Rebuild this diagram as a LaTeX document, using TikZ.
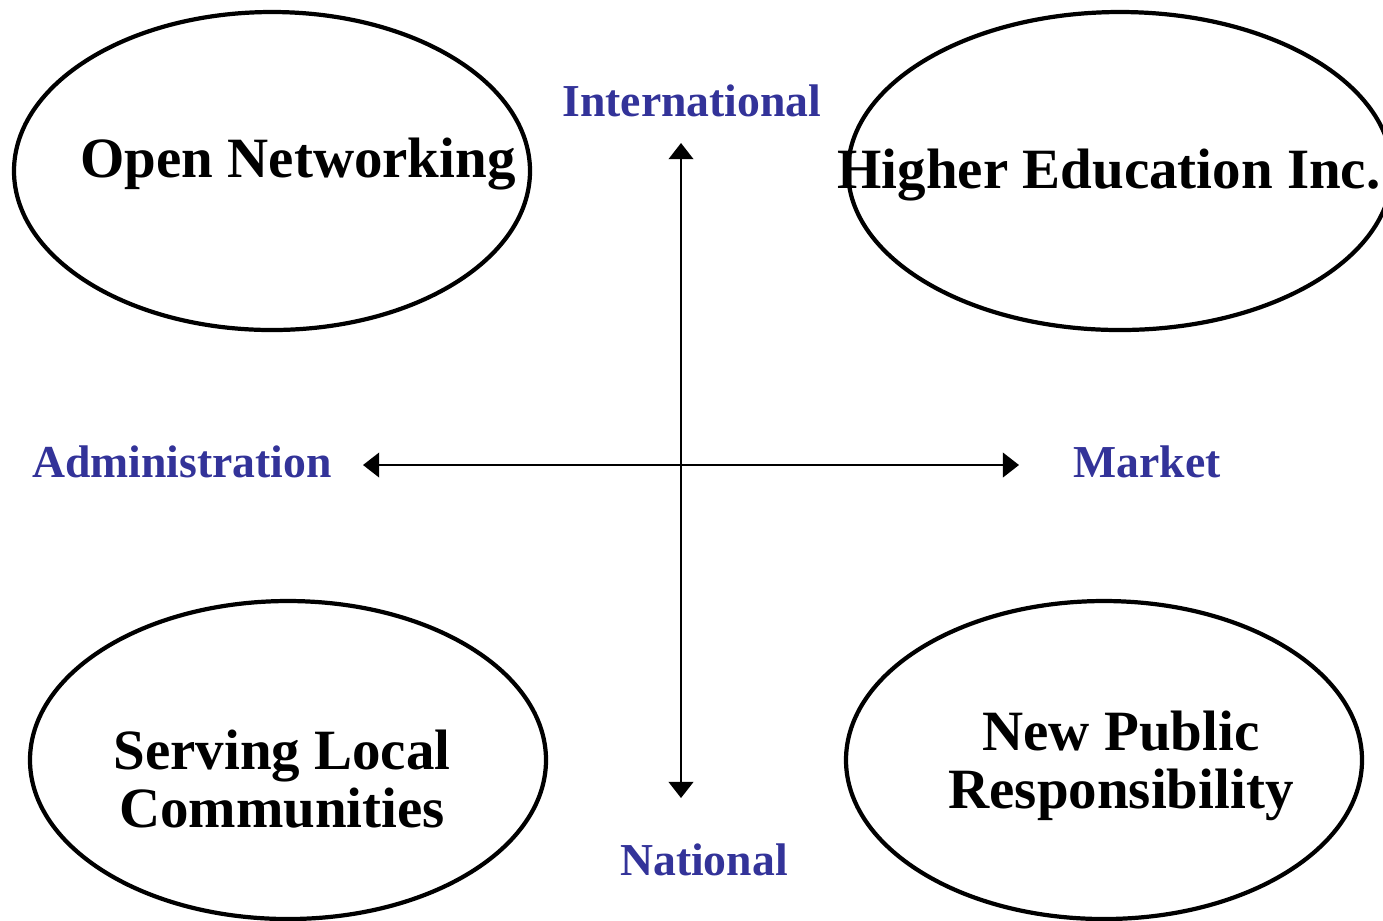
\documentclass[tikz,border=0pt]{standalone}
\usepackage{fontspec}
\setmainfont{Liberation Serif}
\usetikzlibrary{arrows.meta, positioning}
\definecolor{axisBlue}{HTML}{333399}
\tikzset{
  % one unit = one pixel of the original drawing, y pointing down
  every picture/.append style = {x=0.01cm, y=-0.01cm},
  scenario/.style = {draw=black, line width=1.2pt},
  scenlbl/.style  = {font=\fontsize{16.2}{16.5}\selectfont\bfseries, align=center},
  axislbl/.style  = {font=\fontsize{13}{16}\selectfont\bfseries, text=axisBlue},
  axisline/.style = {{Triangle[length=4.6pt, width=7pt]}-{Triangle[length=4.6pt, width=7pt]},
                     line width=0.65pt, black},
}

\begin{document}
\begin{tikzpicture}
  \useasboundingbox (0,0) rectangle (1383,920);
  \clip (0,0) rectangle (1383,920);
  % four scenarios
  \draw[scenario] (272,171) ellipse [x radius=258, y radius=159];
  \draw[scenario] (1120,171) ellipse [x radius=272, y radius=159];
  \draw[scenario] (288,760) ellipse [x radius=258, y radius=159];
  \draw[scenario] (1104,760) ellipse [x radius=258, y radius=159];
  \node[scenlbl, anchor=base] (open) at (298,177) {Open Networking};
  \node[scenlbl, anchor=base] (inc) at (1109,188) {Higher Education Inc.};
  \node[scenlbl] (local) at (282,779) {Serving Local\\Communities};
  \node[scenlbl] (npr) at (1121,766) {New Public\\Responsibility};
  % axes
  \coordinate (top) at (681,143);
  \coordinate (bottom) at (681,798);
  \coordinate (left) at (363,465);
  \coordinate (right) at (1019,465);
  \draw[axisline] (bottom) -- (top);
  \draw[axisline] (left) -- (right);
  \node[axislbl, anchor=base] (intl) at (692,116) {International};
  \node[axislbl, anchor=base] (natl) at (704,875) {National};
  \node[axislbl, anchor=base] (admin) at (182,477) {Administration};
  \node[axislbl, anchor=base] (market) at (1147,477) {Market};
\end{tikzpicture}
\end{document}
